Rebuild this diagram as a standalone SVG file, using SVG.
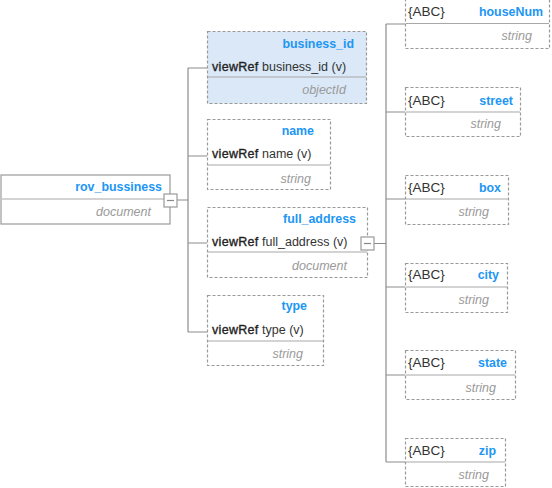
<svg xmlns="http://www.w3.org/2000/svg" width="552" height="488" viewBox="0 0 552 488">
  <style>
    .box { fill: #ffffff; stroke: #999999; stroke-width: 1.2; stroke-dasharray: 3 2; }
    .root { fill: #ffffff; stroke: #9a9a9a; stroke-width: 1.2; }
    .sel { fill: #dae8f7; }
    .div { stroke: #a8a8a8; stroke-width: 1.2; }
    .conn { stroke: #8c8c8c; stroke-width: 1.2; fill: none; }
    .title { font-family: "Liberation Sans", Arial, sans-serif; font-size: 12.4px; font-weight: bold; fill: #2196f3; text-anchor: end; }
    .ref { font-family: "Liberation Sans", Arial, sans-serif; font-size: 12.5px; fill: #333333; }
    .refk { fill: #222222; stroke: #222222; stroke-width: 0.35; letter-spacing: 0.3px; }
    .type { font-family: "Liberation Sans", Arial, sans-serif; font-size: 12.5px; font-style: italic; fill: #9a9a9a; text-anchor: end; }
    .abc { font-family: "Liberation Sans", Arial, sans-serif; font-size: 13.5px; fill: #333333; }
    .tog { fill: #ffffff; stroke: #999999; stroke-width: 1.2; }
    .togm { stroke: #888888; stroke-width: 1.2; }
  </style>

  <!-- connectors -->
  <g id="connectors">
    <path class="conn" d="M177 200 H188 M188 68 V332 M188 68 H207 M188 156 H207 M188 243 H207 M188 332 H207"/>
    <path class="conn" d="M374 243.5 H386 M386 24 V462 M386 24 H405 M386 112 H405 M386 199 H405 M386 287 H405 M386 375 H405 M386 462 H405"/>
  </g>

  <!-- root document -->
  <g id="rov_bussiness">
    <rect class="root" x="1" y="175" width="169" height="49"/>
    <line class="div" x1="2" y1="199" x2="169" y2="199"/>
    <text class="title" x="162" y="191">rov_bussiness</text>
    <text class="type" x="151" y="216">document</text>
    <rect class="tog" x="164" y="194" width="13" height="13"/>
    <line class="togm" x1="167" y1="200.5" x2="174" y2="200.5"/>
  </g>

  <g id="business_id">
    <rect class="box sel" x="207.5" y="31.5" width="159" height="72"/>
    <line class="div" x1="208" y1="77" x2="366" y2="77"/>
    <text class="title" x="354" y="48">business_id</text>
    <text class="ref" x="212" y="71"><tspan class="refk">viewRef</tspan> business_id (v)</text>
    <text class="type" x="346" y="94">objectId</text>
  </g>

  <g id="name">
    <rect class="box" x="207.5" y="119.5" width="123" height="70"/>
    <line class="div" x1="208" y1="165" x2="330" y2="165"/>
    <text class="title" x="314" y="135">name</text>
    <text class="ref" x="212" y="158"><tspan class="refk">viewRef</tspan> name (v)</text>
    <text class="type" x="311" y="183">string</text>
  </g>

  <g id="full_address">
    <rect class="box" x="207.5" y="207.5" width="160" height="70"/>
    <line class="div" x1="208" y1="252" x2="367" y2="252"/>
    <text class="title" x="356" y="223">full_address</text>
    <text class="ref" x="212" y="246"><tspan class="refk">viewRef</tspan> full_address (v)</text>
    <text class="type" x="347" y="270">document</text>
    <rect class="tog" x="361" y="237" width="13" height="13"/>
    <line class="togm" x1="364" y1="243.5" x2="371" y2="243.5"/>
  </g>

  <g id="type">
    <rect class="box" x="207.5" y="295.5" width="116" height="70"/>
    <line class="div" x1="208" y1="341" x2="323" y2="341"/>
    <text class="title" x="307" y="310">type</text>
    <text class="ref" x="212" y="334"><tspan class="refk">viewRef</tspan> type (v)</text>
    <text class="type" x="303" y="358">string</text>
  </g>

  <!-- address fields -->
  <g id="houseNum">
    <rect class="box" x="405.5" y="-1.5" width="144" height="50"/>
    <line class="div" x1="406" y1="23.5" x2="549" y2="23.5"/>
    <text class="abc" x="408" y="16">{ABC}</text>
    <text class="title" x="543" y="16">houseNum</text>
    <text class="type" x="532" y="40">string</text>
  </g>

  <g id="street">
    <rect class="box" x="405.5" y="87.5" width="115" height="49"/>
    <line class="div" x1="406" y1="112" x2="520" y2="112"/>
    <text class="abc" x="408" y="105">{ABC}</text>
    <text class="title" x="513" y="105">street</text>
    <text class="type" x="501" y="128">string</text>
  </g>

  <g id="box">
    <rect class="box" x="405.5" y="175.5" width="103" height="49"/>
    <line class="div" x1="406" y1="199" x2="508" y2="199"/>
    <text class="abc" x="408" y="192">{ABC}</text>
    <text class="title" x="501" y="192">box</text>
    <text class="type" x="489" y="216">string</text>
  </g>

  <g id="city">
    <rect class="box" x="405.5" y="263.5" width="102" height="49"/>
    <line class="div" x1="406" y1="287" x2="507" y2="287"/>
    <text class="abc" x="408" y="279">{ABC}</text>
    <text class="title" x="499" y="279">city</text>
    <text class="type" x="489" y="304">string</text>
  </g>

  <g id="state">
    <rect class="box" x="405.5" y="350.5" width="110" height="49"/>
    <line class="div" x1="406" y1="375" x2="515" y2="375"/>
    <text class="abc" x="408" y="367">{ABC}</text>
    <text class="title" x="507" y="367">state</text>
    <text class="type" x="496" y="392">string</text>
  </g>

  <g id="zip">
    <rect class="box" x="405.5" y="438.5" width="100" height="48"/>
    <line class="div" x1="406" y1="462" x2="505" y2="462"/>
    <text class="abc" x="408" y="455">{ABC}</text>
    <text class="title" x="496" y="455">zip</text>
    <text class="type" x="489" y="479">string</text>
  </g>
</svg>
